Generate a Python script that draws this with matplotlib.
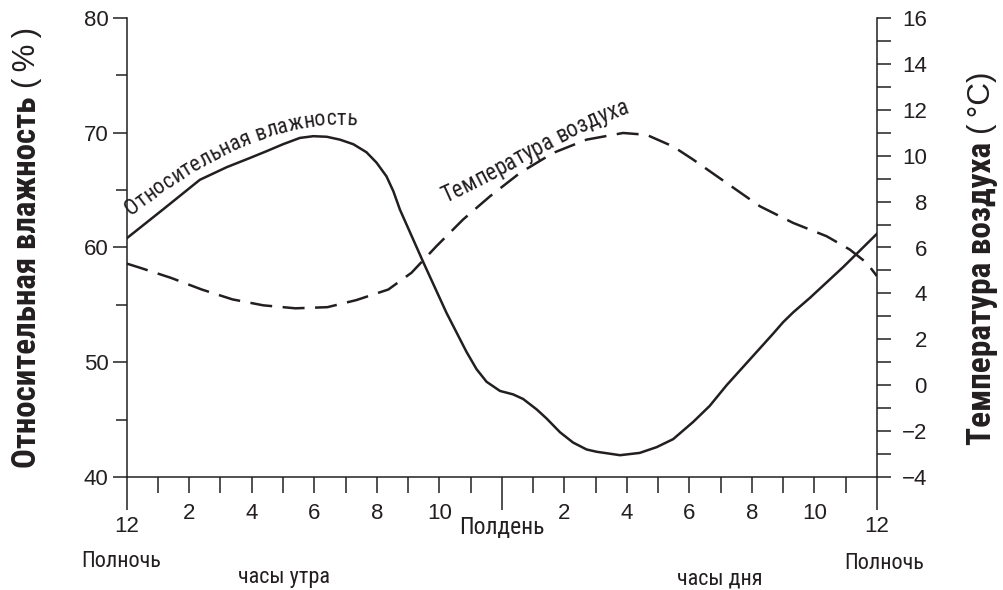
import numpy as np
import matplotlib
matplotlib.use('Agg')
import matplotlib.pyplot as plt
from matplotlib import font_manager
from matplotlib.font_manager import FontProperties
from matplotlib.ft2font import FT2Font
from matplotlib.ticker import FixedLocator, FuncFormatter

# hours after midnight, relative humidity (%)
hours_hum = [0.0, 1.2, 2.34, 3.2, 3.94, 4.48, 5.0, 5.54, 5.97, 6.4, 6.82, 7.25,
             7.67, 7.99, 8.31, 8.53, 8.74, 9.49, 10.23, 10.87, 11.19, 11.51,
             11.94, 12.36, 12.68, 13.11, 13.43, 13.86, 14.28, 14.71, 15.03,
             15.78, 16.41, 16.95, 17.48, 18.12, 18.65, 19.19, 19.72, 20.25,
             20.68, 21.0, 21.32, 21.85, 22.92, 24.0]
humidity = [60.8, 63.4, 65.9, 67.0, 67.8, 68.4, 69.0, 69.55, 69.7, 69.65, 69.4,
            69.0, 68.3, 67.4, 66.2, 64.9, 63.3, 58.7, 54.3, 50.9, 49.4, 48.3,
            47.5, 47.2, 46.8, 45.9, 45.1, 43.9, 43.0, 42.4, 42.2, 41.9, 42.1,
            42.6, 43.3, 44.8, 46.2, 48.0, 49.6, 51.2, 52.5, 53.5, 54.35, 55.6,
            58.3, 61.2]

# hours after midnight, air temperature (C)
hours_temp = [0.0, 0.42, 1.41, 2.4, 3.38, 4.37, 5.4, 6.42, 7.35, 8.37, 9.11,
              9.91, 10.76, 11.62, 12.58, 13.64, 14.71, 15.88, 16.63, 17.48,
              18.12, 19.19, 20.25, 21.32, 22.39, 23.13, 23.67, 24.0]
temperature = [5.3, 5.12, 4.68, 4.17, 3.74, 3.48, 3.35, 3.4, 3.71, 4.17, 4.9,
               6.06, 7.22, 8.23, 9.25, 10.12, 10.7, 10.99, 10.91, 10.4, 9.83,
               8.81, 7.8, 7.07, 6.49, 5.91, 5.33, 4.75]

hum_ticks = [40, 50, 60, 70, 80]
temp_ticks = [-4, -2, 0, 2, 4, 6, 8, 10, 12, 14, 16]

INK = '#231f20'
W, H = 1004, 590

# pick a condensed face if there is one, otherwise a narrow-ish sans
fonts = font_manager.fontManager.ttflist
names = {f.name for f in fonts}
NARROW, STRETCH = 'Roboto', 'normal'
for n in ['Liberation Sans Narrow', 'Roboto Condensed', 'Open Sans Condensed']:
    if n in names:
        NARROW = n
        break
else:
    for f in fonts:
        if f.name in ('Noto Sans', 'Open Sans', 'DejaVu Sans') and 'condensed' in str(f.stretch):
            NARROW, STRETCH = f.name, 'condensed'
            break
REG = 'Liberation Sans'


def narrow(size, weight='normal'):
    return FontProperties(family=NARROW, stretch=STRETCH, size=size, weight=weight)


fig = plt.figure(figsize=(W / 100, H / 100), dpi=100)
ax = fig.add_axes([126.7 / W, 1 - 477 / H, (877 - 126.7) / W, (477 - 18) / H])
ax2 = ax.twinx()

ax.plot(hours_hum, humidity, color=INK, lw=1.8, solid_joinstyle='round')
ax2.plot(hours_temp, temperature, color=INK, lw=1.8, ls=(0, (8.8, 4.2)))

ax.set_xlim(0, 24)
ax.set_ylim(40, 80)
ax2.set_ylim(-4, 16)

for a in (ax, ax2):
    a.spines['top'].set_visible(False)
    for s in a.spines.values():
        s.set_linewidth(1.1)
        s.set_color(INK)
ax.spines['right'].set_visible(False)
ax2.spines['left'].set_visible(False)
ax2.spines['bottom'].set_visible(False)

# x axis: long ticks at midnight / noon, short every hour
ax.xaxis.set_major_locator(FixedLocator([0, 12, 24]))
ax.set_xticklabels(['12', 'Полдень', '12'])
ax.xaxis.set_minor_locator(FixedLocator([h for h in range(1, 24) if h != 12]))
ax.xaxis.set_minor_formatter(FuncFormatter(
    lambda v, p: str(int(round(v)) % 12) if int(round(v)) % 2 == 0 else ''))
ax.tick_params(axis='x', which='major', direction='out', length=24, width=1.1,
               pad=4, labelsize=16, colors=INK)
ax.tick_params(axis='x', which='minor', direction='out', length=11.5, width=1.1,
               pad=7, labelsize=16, colors=INK)
for lbl in ax.get_xticklabels(which='both'):
    lbl.set_fontfamily(REG)
noon = ax.get_xticklabels()[1]
noon.set_fontproperties(narrow(17))

ax.set_yticks(hum_ticks)
ax.set_yticks([45, 55, 65, 75], minor=True)
ax.tick_params(axis='y', which='both', direction='out', width=1.1, pad=3,
               labelsize=16, colors=INK)
ax.tick_params(axis='y', which='major', length=10)
ax.tick_params(axis='y', which='minor', length=8)
for lbl in ax.get_yticklabels():
    lbl.set_fontfamily(REG)

ax2.set_yticks(temp_ticks)
ax2.set_yticks(range(-3, 16, 2), minor=True)
ax2.tick_params(axis='y', which='both', direction='out', length=10, width=1.1,
                pad=26, labelsize=16, colors=INK)
for lbl in ax2.get_yticklabels():
    lbl.set_fontfamily(REG)
    lbl.set_horizontalalignment('right')

# words under the axis
for x, y, s in [(121.5, 567, 'Полночь'), (884, 569, 'Полночь'),
                (284, 583, 'часы утра'), (720, 584, 'часы дня')]:
    fig.text(x / W, 1 - y / H, s, ha='center', va='baseline',
             fontproperties=narrow(16), color=INK)


def advances(text, fp):
    font = FT2Font(font_manager.findfont(fp), hinting_factor=1)
    font.set_size(10, 100)
    return [font.load_char(ord(c)).linearHoriAdvance / 65536 for c in text]


def curved_label(text, pts):
    # pts: baseline guide in image pixels (y down); text is fitted between ends
    px = np.array([p[0] for p in pts], float)
    py = H - np.array([p[1] for p in pts], float)
    coef = np.polyfit(px, py, 3)
    dcoef = np.polyder(coef)
    xs = np.linspace(px[0] - 20, px[-1] + 20, 2000)
    ys = np.polyval(coef, xs)
    s = np.concatenate([[0], np.cumsum(np.hypot(np.diff(xs), np.diff(ys)))])
    s0 = np.interp(px[0], xs, s)
    s1 = np.interp(px[-1], xs, s)
    advs = advances(text, narrow(10))
    size = 10 * (s1 - s0) / sum(advs)
    advs = [a * size / 10 for a in advs]
    fp = narrow(size)
    pos = s0
    for c, a in zip(text, advs):
        mid = pos + a / 2
        x = np.interp(mid, s, xs)
        y = np.interp(mid, s, ys)
        ang = np.degrees(np.arctan(np.polyval(dcoef, x)))
        fig.text(x / W, y / H, c, rotation=ang, rotation_mode='anchor',
                 ha='center', va='baseline', fontproperties=fp, color=INK)
        pos += a


curved_label('Относительная влажность',
             [(131, 216), (187, 177), (233, 150), (287, 132), (313, 127), (357, 125)])
curved_label('Температура воздуха',
             [(445, 203), (475, 188), (510, 170), (545, 152), (575, 135), (605, 122), (630, 113)])


def axis_title(xc, y_bottom, bold_text, unit_text, length):
    size = 10 * length / sum(advances(bold_text, narrow(10, 'bold')))
    t = fig.text(xc / W, 1 - y_bottom / H, bold_text, rotation=90, ha='center',
                 va='bottom', fontproperties=narrow(size, 'bold'), color=INK)
    fig.canvas.draw()
    top = t.get_window_extent().y1
    fig.text(xc / W, (top + 8) / H, unit_text, rotation=90, ha='center',
             va='bottom', family=REG, size=size * 0.95, color=INK)


axis_title(27, 468, 'Относительная влажность', '(\u2009%\u2009)', 374)
axis_title(982, 445, 'Температура воздуха', '(\u2009°C)', 305)

fig.savefig('out.png', dpi=100)
